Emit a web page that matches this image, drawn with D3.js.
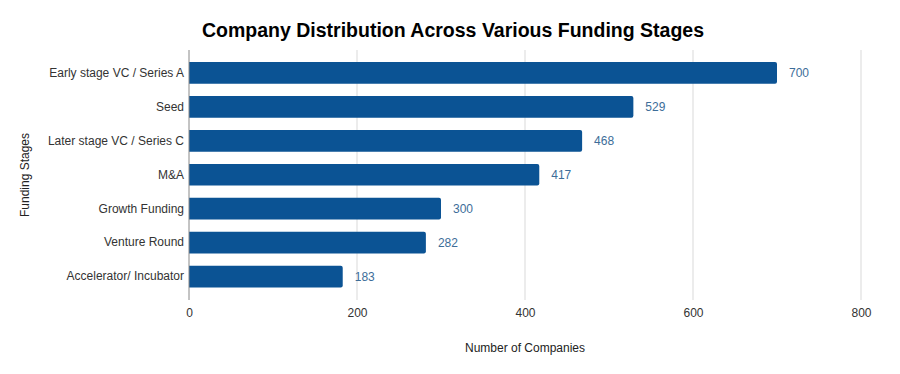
<!DOCTYPE html>
<html>
<head>
<meta charset="utf-8">
<script src="https://cdn.jsdelivr.net/npm/d3@7"></script>
<style>
  body { margin: 0; background: #fff; }
  .chart text { font-family: "Liberation Sans", Arial, sans-serif; }
</style>
</head>
<body>
<div class="chart"></div>
<script>
var stages = ["Early stage VC / Series A", "Seed", "Later stage VC / Series C", "M&A",
              "Growth Funding", "Venture Round", "Accelerator/ Incubator"];
var companies = [700, 529, 468, 417, 300, 282, 183];
var xTicks = [0, 200, 400, 600, 800];

var width = 900, height = 374;
var plot = { left: 189, right: 861, top: 50, bottom: 300 };

var svg = d3.select(".chart").append("svg")
  .attr("width", width)
  .attr("height", height);

var x = d3.scaleLinear().domain([0, 800]).range([plot.left, plot.right]);
var y = d3.scaleBand().domain(stages).range([56, 293.5]).paddingInner(0.36).paddingOuter(0.18);

// title
svg.append("text")
  .attr("x", 453)
  .attr("y", 37)
  .attr("text-anchor", "middle")
  .style("font-size", "19.5px")
  .style("font-weight", "bold")
  .attr("fill", "#000")
  .text("Company Distribution Across Various Funding Stages");

// grid
svg.append("g")
  .selectAll("line")
  .data(xTicks.slice(1))
  .enter().append("line")
    .attr("x1", d => x(d)).attr("x2", d => x(d))
    .attr("y1", plot.top).attr("y2", plot.bottom)
    .attr("stroke", "#d9d9d9")
    .attr("stroke-width", 1);

// x axis labels
var xAxis = svg.append("g")
  .attr("transform", "translate(0," + plot.bottom + ")")
  .call(d3.axisBottom(x).tickValues(xTicks).tickSize(0).tickPadding(8));
xAxis.select(".domain").remove();
xAxis.selectAll("text")
  .style("font-size", "12px")
  .attr("fill", "#333");

// bars
svg.append("g")
  .selectAll("path")
  .data(stages)
  .enter().append("path")
    .attr("fill", "#0b5394")
    .attr("d", function(d, i) {
      var x0 = x(0), x1 = x(companies[i]), y0 = y(d), h = y.bandwidth(), r = 2;
      return "M" + x0 + "," + y0 +
        "H" + (x1 - r) + "Q" + x1 + "," + y0 + " " + x1 + "," + (y0 + r) +
        "V" + (y0 + h - r) + "Q" + x1 + "," + (y0 + h) + " " + (x1 - r) + "," + (y0 + h) +
        "H" + x0 + "Z";
    });

// value labels
svg.append("g")
  .selectAll("text")
  .data(stages)
  .enter().append("text")
    .attr("x", (d, i) => x(companies[i]) + 12)
    .attr("y", d => y(d) + y.bandwidth() / 2)
    .attr("dy", "0.35em")
    .style("font-size", "12px")
    .attr("fill", "#3d6d99")
    .text((d, i) => companies[i]);

// y axis
var yAxis = svg.append("g")
  .attr("transform", "translate(" + plot.left + ",0)")
  .call(d3.axisLeft(y).tickSize(0).tickPadding(5));
yAxis.select(".domain").remove();
yAxis.selectAll("text")
  .style("font-size", "12px")
  .attr("fill", "#333");

svg.append("line")
  .attr("x1", plot.left).attr("x2", plot.left)
  .attr("y1", plot.top).attr("y2", plot.bottom)
  .attr("stroke", "#888")
  .attr("stroke-width", 1);

// axis titles
svg.append("text")
  .attr("x", (plot.left + plot.right) / 2)
  .attr("y", 352)
  .attr("text-anchor", "middle")
  .style("font-size", "12px")
  .attr("fill", "#222")
  .text("Number of Companies");

svg.append("text")
  .attr("transform", "translate(29,175) rotate(-90)")
  .attr("text-anchor", "middle")
  .style("font-size", "12px")
  .attr("fill", "#222")
  .text("Funding Stages");
</script>
</body>
</html>
